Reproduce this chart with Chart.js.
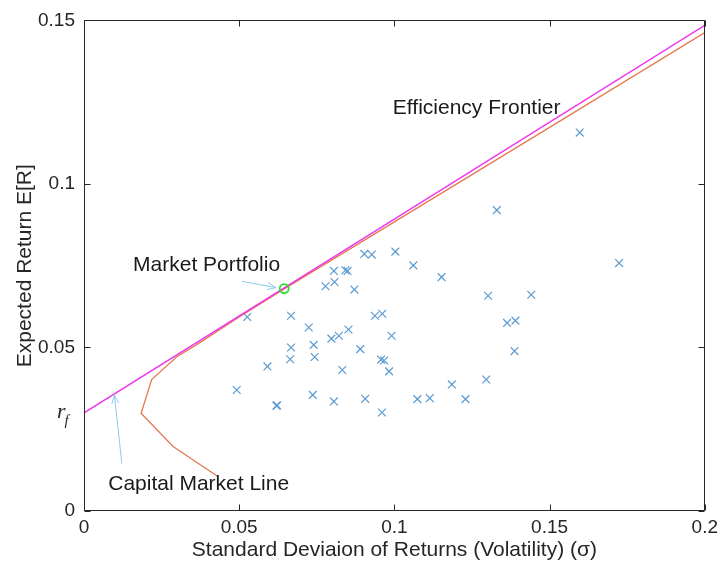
<!DOCTYPE html>
<html>
<head>
<meta charset="utf-8">
<script src="https://cdn.jsdelivr.net/npm/chart.js@4/dist/chart.umd.min.js"></script>
<style>
  html, body { margin: 0; padding: 0; background: #ffffff; }
  #wrap { width: 723px; height: 571px; }
</style>
</head>
<body>
<div id="wrap"><canvas id="c" width="723" height="571"></canvas></div>
<script>
// ---- data ----
const xTickValues = [0, 0.05, 0.1, 0.15, 0.2];
const yTickValues = [0, 0.05, 0.1, 0.15];
const riskFree = 0.03;

const assetSigma = [
  0.1597, 0.1330, 0.1724, 0.0903, 0.0927, 0.1003, 0.1061, 0.1152, 0.0805, 0.0842,
  0.0849, 0.0778, 0.0807, 0.0871, 0.1302, 0.1441, 0.0937, 0.0961, 0.1363, 0.1390,
  0.0724, 0.0852, 0.0797, 0.0821, 0.0991, 0.0740, 0.0890, 0.1387, 0.0743, 0.0957,
  0.0967, 0.0832, 0.0983, 0.1185, 0.1296, 0.0737, 0.0805, 0.0906, 0.1074, 0.1114,
  0.1229, 0.0960, 0.0526, 0.0667, 0.0667, 0.0664, 0.0591, 0.0492, 0.0620, 0.0622
];
const assetReturn = [
  0.1157, 0.0920, 0.0758, 0.0786, 0.0784, 0.0793, 0.0751, 0.0715, 0.0734, 0.0736,
  0.0734, 0.0687, 0.0700, 0.0677, 0.0658, 0.0661, 0.0597, 0.0603, 0.0575, 0.0582,
  0.0561, 0.0555, 0.0527, 0.0536, 0.0536, 0.0508, 0.0495, 0.0489, 0.0471, 0.0463,
  0.0460, 0.0431, 0.0427, 0.0387, 0.0402, 0.0355, 0.0335, 0.0343, 0.0342, 0.0345,
  0.0342, 0.0301, 0.0593, 0.0597, 0.0500, 0.0464, 0.0442, 0.0370, 0.0322, 0.0323
];

const frontierSigma  = [0.0430, 0.0287, 0.0184, 0.0218, 0.0298, 0.0372, 0.0500, 0.0645, 0.1000, 0.1500, 0.2000];
const frontierReturn = [0.0106, 0.0197, 0.0299, 0.0402, 0.0471, 0.0514, 0.0593, 0.0679, 0.0884, 0.1173, 0.1463];

const cmlSigma  = [0, 0.2];
const cmlReturn = [riskFree, 0.1485];

const marketSigma  = [0.0645];
const marketReturn = [0.0680];

const labelTexts = ['Efficiency Frontier', 'Market Portfolio', 'Capital Market Line'];
// ---- end of data ----

const toPts = (xs, ys) => xs.map((v, i) => ({ x: v, y: ys[i] }));

// annotation placement (data coordinates)
const labelAnchors = [
  { x: 0.0995, y: 0.1213 },
  { x: 0.0158, y: 0.0735 },
  { x: 0.0078, y: 0.0063 }
];
const arrows = [
  { from: { x: 0.0509, y: 0.0702 }, to: { x: 0.0618, y: 0.0683 } },
  { from: { x: 0.0122, y: 0.0145 }, to: { x: 0.0098, y: 0.0354 } }
];

const AXIS_COLOR = '#262626';
const FONT = "'Liberation Sans', Arial, Helvetica, sans-serif";

const boxPlugin = {
  id: 'boxTicks',
  afterDatasetsDraw(chart) {
    const { ctx, scales: { x, y } } = chart;
    ctx.save();
    ctx.strokeStyle = '#8cc9ea';
    ctx.lineWidth = 1;
    arrows.forEach(ar => {
      const x1 = x.getPixelForValue(ar.from.x), y1 = y.getPixelForValue(ar.from.y);
      const x2 = x.getPixelForValue(ar.to.x), y2 = y.getPixelForValue(ar.to.y);
      const ang = Math.atan2(y2 - y1, x2 - x1);
      ctx.beginPath();
      ctx.moveTo(x1, y1); ctx.lineTo(x2, y2);
      const hl = 9, hw = 0.4;
      ctx.moveTo(x2 - hl * Math.cos(ang - hw), y2 - hl * Math.sin(ang - hw));
      ctx.lineTo(x2, y2);
      ctx.lineTo(x2 - hl * Math.cos(ang + hw), y2 - hl * Math.sin(ang + hw));
      ctx.stroke();
    });
    ctx.fillStyle = '#1a1a1a';
    ctx.font = '21px ' + FONT;
    ctx.textBaseline = 'alphabetic';
    ctx.textAlign = 'left';
    labelTexts.forEach((t, i) => {
      ctx.fillText(t, x.getPixelForValue(labelAnchors[i].x), y.getPixelForValue(labelAnchors[i].y));
    });
    ctx.restore();
  },
  afterDraw(chart) {
    const { ctx, chartArea: a, scales: { x, y } } = chart;
    ctx.save();
    ctx.strokeStyle = AXIS_COLOR;
    ctx.lineWidth = 1;
    const L = Math.round(a.left) + 0.5, R = Math.round(a.right) - 0.5;
    const T = Math.round(a.top) + 0.5, B = Math.round(a.bottom) - 0.5;
    ctx.beginPath();
    ctx.rect(L, T, R - L, B - T);
    const tl = 6;
    x.ticks.forEach(t => {
      const px = Math.round(x.getPixelForValue(t.value)) + 0.5;
      ctx.moveTo(px, B); ctx.lineTo(px, B - tl);
      ctx.moveTo(px, T); ctx.lineTo(px, T + tl);
    });
    y.ticks.forEach(t => {
      const py = Math.round(y.getPixelForValue(t.value)) + 0.5;
      ctx.moveTo(L, py); ctx.lineTo(L + tl, py);
      ctx.moveTo(R, py); ctx.lineTo(R - tl, py);
    });
    ctx.stroke();
    const ry = y.getPixelForValue(riskFree);
    ctx.fillStyle = AXIS_COLOR;
    ctx.textAlign = 'left';
    ctx.textBaseline = 'alphabetic';
    ctx.font = "italic 22px 'Liberation Serif', 'DejaVu Serif', serif";
    ctx.fillText('r', a.left - 27, ry + 5);
    ctx.font = "italic 15px 'Liberation Serif', 'DejaVu Serif', serif";
    ctx.fillText('f', a.left - 19.5, ry + 12);
    ctx.restore();
  }
};

new Chart(document.getElementById('c'), {
  type: 'scatter',
  data: {
    datasets: [
      {
        label: 'Market Portfolio',
        data: toPts(marketSigma, marketReturn),
        pointStyle: 'circle',
        pointRadius: 4.5,
        borderColor: '#2ee02e',
        backgroundColor: 'rgba(0,0,0,0)',
        borderWidth: 1.8,
        showLine: false
      },
      {
        label: 'Capital Market Line',
        data: toPts(cmlSigma, cmlReturn),
        showLine: true,
        borderColor: '#ee33ee',
        borderWidth: 1.6,
        pointRadius: 0
      },
      {
        label: 'Efficient Frontier',
        data: toPts(frontierSigma, frontierReturn),
        showLine: true,
        borderColor: '#e47a50',
        borderWidth: 1.3,
        pointRadius: 0,
        tension: 0
      },
      {
        label: 'Assets',
        data: toPts(assetSigma, assetReturn),
        pointStyle: 'crossRot',
        pointRadius: 5.5,
        borderColor: '#5b9bd0',
        backgroundColor: '#5b9bd0',
        borderWidth: 1.2,
        showLine: false
      }
    ]
  },
  options: {
    responsive: false,
    animation: false,
    devicePixelRatio: 1,
    layout: { padding: { left: 0, right: 14, top: 16, bottom: 0 } },
    plugins: { legend: { display: false }, tooltip: { enabled: false } },
    scales: {
      x: {
        type: 'linear',
        min: 0, max: 0.2,
        afterBuildTicks: s => { s.ticks = xTickValues.map(v => ({ value: v })); },
        afterFit: s => { s.height = 60; },
        grid: { display: false, drawTicks: false },
        border: { display: false },
        ticks: {
          color: AXIS_COLOR,
          font: { family: FONT, size: 19 },
          padding: 5,
          maxRotation: 0,
          callback: v => String(+v.toFixed(2))
        },
        title: {
          display: true,
          text: 'Standard Deviaion of Returns (Volatility) (σ)',
          color: AXIS_COLOR,
          font: { family: FONT, size: 21 },
          padding: { top: 0, bottom: 8 }
        }
      },
      y: {
        type: 'linear',
        min: 0, max: 0.15,
        afterBuildTicks: s => { s.ticks = yTickValues.map(v => ({ value: v })); },
        afterFit: s => { s.width = 84; },
        grid: { display: false, drawTicks: false },
        border: { display: false },
        ticks: {
          color: AXIS_COLOR,
          font: { family: FONT, size: 19 },
          padding: 9,
          callback: v => String(+v.toFixed(2))
        },
        title: {
          display: true,
          text: 'Expected Return E[R]',
          color: AXIS_COLOR,
          font: { family: FONT, size: 21 },
          padding: { top: 13, bottom: 0 }
        }
      }
    }
  },
  plugins: [boxPlugin]
});
</script>
</body>
</html>
